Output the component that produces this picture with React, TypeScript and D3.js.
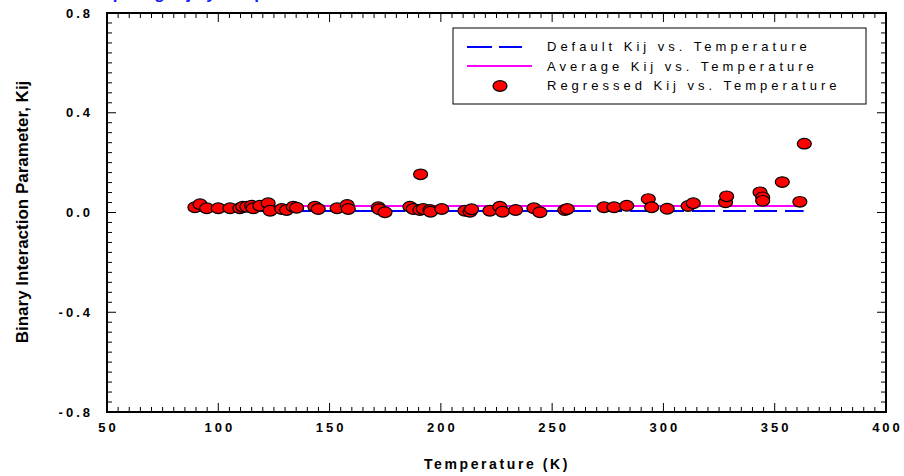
import React from "react";
import * as d3 from "d3";

const temps = [89.5, 91.8, 94.8, 100, 105.3, 109.7, 111, 112.8, 115, 115.7, 118.7, 122.4, 123.3, 128.5, 130.7, 133.7, 135.2, 143.4, 144.9, 153.4, 157.9, 158.4, 171.9, 172.3, 174.9, 186.1, 187.6, 190.6, 190.9, 192.1, 195.1, 195.4, 200.4, 210.8, 213.1, 213.8, 222, 226.5, 227.7, 233.6, 241.8, 244.5, 255.7, 256.8, 273.3, 277.8, 283.5, 293.2, 294.7, 301.7, 311.1, 313.4, 327.9, 328.4, 343.4, 344.6, 344.6, 353.4, 361.3, 363.3];
const kijValues = [0.021, 0.033, 0.017, 0.017, 0.017, 0.017, 0.023, 0.023, 0.027, 0.017, 0.027, 0.037, 0.007, 0.014, 0.010, 0.023, 0.019, 0.023, 0.014, 0.017, 0.030, 0.014, 0.021, 0.013, 0.001, 0.023, 0.014, 0.010, 0.153, 0.014, 0.010, 0.003, 0.014, 0.007, 0.003, 0.013, 0.007, 0.023, 0.003, 0.010, 0.017, 0.001, 0.010, 0.014, 0.021, 0.021, 0.027, 0.054, 0.021, 0.015, 0.026, 0.037, 0.041, 0.065, 0.081, 0.061, 0.047, 0.122, 0.043, 0.276];
const lineRange = [90, 363];
const defaultKij = 0.006;
const averageKij = 0.026;
const xTicks = [50, 100, 150, 200, 250, 300, 350, 400];
const yTicks = [0.8, 0.4, 0.0, -0.4, -0.8];
const legendLabels = ["Default Kij vs. Temperature", "Average Kij vs. Temperature", "Regressed Kij vs. Temperature"];

const FONT = "'Liberation Sans', Arial, sans-serif";

export default function App() {
  const L = 107, R = 886, T = 13, B = 412;
  const x = d3.scaleLinear().domain([50, 400]).range([L, R]);
  const y = d3.scaleLinear().domain([-0.8, 0.8]).range([B, T]);

  const xMinor = d3.range(50, 400.001, 5);
  const yMinor = d3.range(-0.8, 0.8001, 0.04);

  const line = d3.line<[number, number]>().x(d => x(d[0])).y(d => y(d[1]));
  const defPath = line([[lineRange[0], defaultKij], [lineRange[1], defaultKij]]) || "";
  const avgPath = line([[lineRange[0], averageKij], [lineRange[1], averageKij]]) || "";

  const isMajorX = (v: number) => Math.abs(v % 50) < 1e-6;
  const isMajorY = (v: number) => Math.abs(Math.round(v / 0.4) * 0.4 - v) < 1e-6;

  return (
    <svg width={904} height={476} style={{ position: "absolute", left: 0, top: 0, background: "#fff" }} fontFamily={FONT}>
      <rect x={0} y={0} width={904} height={476} fill="#fff" />
      <text x={75} y={-1} fill="#1a1aff" fontSize={17} fontWeight="bold">Comparing Kij by Temperature</text>

      {/* plot lines */}
      <path d={avgPath} stroke="#ff00ff" strokeWidth={2} fill="none" />
      <path d={defPath} stroke="#0000ff" strokeWidth={2.2} fill="none" strokeDasharray="23,8" />

      {/* points */}
      {temps.map((t, i) => (
        <ellipse key={i} cx={x(t)} cy={y(kijValues[i])} rx={7} ry={5.3} fill="#ff0000" stroke="#000" strokeWidth={1.2} />
      ))}

      {/* frame */}
      <rect x={L} y={T} width={R - L} height={B - T} fill="none" stroke="#000" strokeWidth={2} />

      {/* x ticks */}
      {xMinor.map((v, i) => {
        const len = isMajorX(v) ? 9 : 5;
        return (
          <g key={"xt" + i}>
            <line x1={x(v)} x2={x(v)} y1={B} y2={B - len} stroke="#000" strokeWidth={1} />
            <line x1={x(v)} x2={x(v)} y1={T} y2={T + len} stroke="#000" strokeWidth={1} />
          </g>
        );
      })}
      {yMinor.map((v, i) => {
        const len = isMajorY(v) ? 9 : 5;
        return (
          <g key={"yt" + i}>
            <line x1={L} x2={L + len} y1={y(v)} y2={y(v)} stroke="#000" strokeWidth={1} />
            <line x1={R} x2={R - len} y1={y(v)} y2={y(v)} stroke="#000" strokeWidth={1} />
          </g>
        );
      })}

      {/* tick labels */}
      {xTicks.map(v => (
        <text key={"xl" + v} x={x(v) + 1.5} y={432} textAnchor="middle" fontSize={13} fontWeight="bold" letterSpacing={3}>{v}</text>
      ))}
      {yTicks.map(v => (
        <text key={"yl" + v} x={93} y={y(v) + 4.5} textAnchor="end" fontSize={13} fontWeight="bold" letterSpacing={3}>{d3.format(".1f")(v).replace("−", "-")}</text>
      ))}

      {/* axis titles */}
      <text x={497} y={469} textAnchor="middle" fontSize={14} fontWeight="bold" letterSpacing={2.6}>Temperature (K)</text>
      <text transform="translate(28,212) rotate(-90)" textAnchor="middle" fontSize={17} fontWeight="bold">Binary Interaction Parameter, Kij</text>

      {/* legend */}
      <rect x={453} y={28} width={413} height={76} fill="#fff" stroke="#000" strokeWidth={1} />
      <line x1={467} x2={522} y1={47} y2={47} stroke="#0000ff" strokeWidth={2} strokeDasharray="25,7" />
      <line x1={467} x2={532} y1={66} y2={66} stroke="#ff00ff" strokeWidth={2} />
      <ellipse cx={500} cy={86} rx={7} ry={5.3} fill="#ff0000" stroke="#000" strokeWidth={1.2} />
      {legendLabels.map((s, i) => (
        <text key={s} x={547} y={51 + i * 19.5} fontSize={13} letterSpacing={4}>{s}</text>
      ))}
    </svg>
  );
}
